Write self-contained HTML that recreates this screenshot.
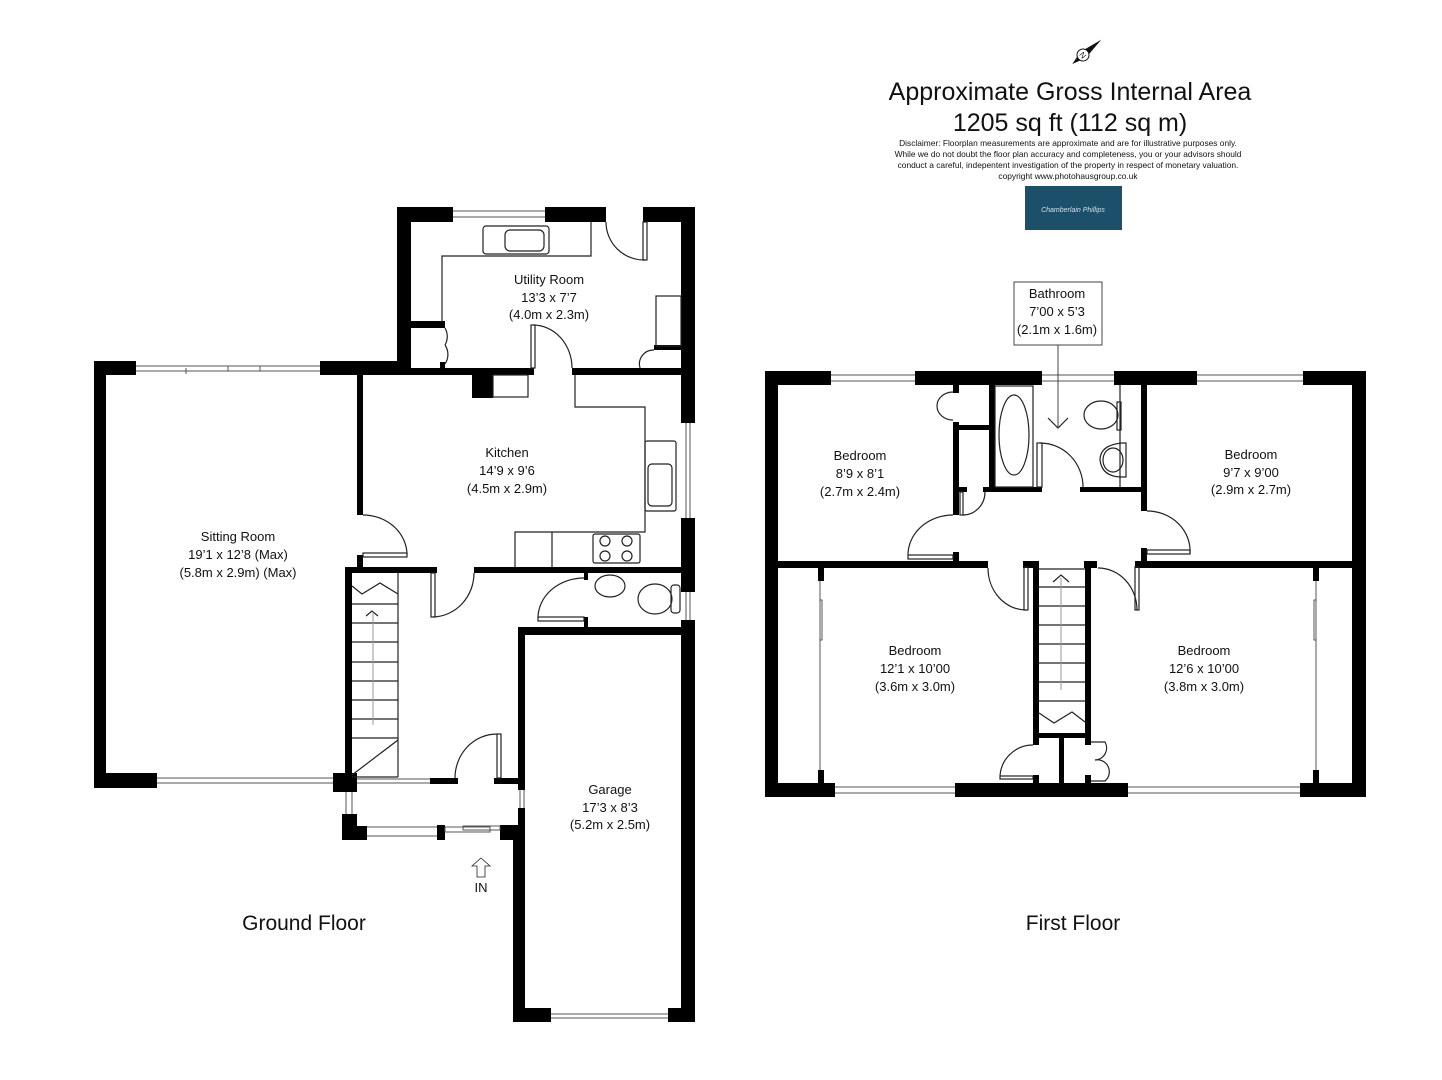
<!DOCTYPE html>
<html><head><meta charset="utf-8"><style>
html,body{margin:0;padding:0;background:#fff;}
svg{display:block;}
text{font-family:"Liberation Sans",sans-serif;fill:#111;}
</style></head><body>
<svg width="1442" height="1080" viewBox="0 0 1442 1080" xmlns="http://www.w3.org/2000/svg">
<rect width="1442" height="1080" fill="#fff"/>

<!-- Header -->
<g transform="translate(1083,55) rotate(50)">
<polygon points="0,-24 4,0 -4,0" fill="#111"/>
<polygon points="0,14 4,0 -4,0" fill="#111"/>
<circle r="6" fill="#fff" stroke="#111" stroke-width="1"/>
<text x="0" y="3" font-size="8" text-anchor="middle">N</text>
</g>
<text x="1070" y="100" font-size="25" text-anchor="middle">Approximate Gross Internal Area</text>
<text x="1070" y="131" font-size="25" text-anchor="middle">1205 sq ft (112 sq m)</text>
<g font-size="8.4" text-anchor="middle">
<text x="1068" y="146">Disclaimer: Floorplan measurements are approximate and are for illustrative purposes only.</text>
<text x="1068" y="157">While we do not doubt the floor plan accuracy and completeness, you or your advisors should</text>
<text x="1068" y="168">conduct a careful, indepentent investigation of the property in respect of monetary valuation.</text>
<text x="1068" y="179">copyright www.photohausgroup.co.uk</text>
</g>
<rect x="1025" y="186" width="97" height="44" fill="#1c4f69"/>
<text x="1073" y="212" font-size="7" text-anchor="middle" style="fill:#cfe0ea;font-style:italic">Chamberlain Phillips</text>

<!-- ===== GROUND FLOOR ===== -->
<g fill="#000">
<rect x="94" y="361" width="12" height="427"/>
<rect x="94" y="361" width="42" height="14"/>
<rect x="320" y="361" width="91" height="14"/>
<rect x="94" y="773" width="63" height="15"/>
<rect x="333" y="773" width="24" height="19"/>
<rect x="357" y="375" width="6" height="140"/>
<rect x="357" y="555" width="6" height="13"/>
<rect x="397" y="207" width="14" height="168"/>
<rect x="397" y="207" width="56" height="15"/>
<rect x="545" y="207" width="61" height="15"/>
<rect x="643" y="207" width="52" height="15"/>
<rect x="681" y="207" width="14" height="216"/>
<rect x="681" y="518" width="14" height="74"/>
<rect x="681" y="620" width="14" height="402"/>
<rect x="411" y="368" width="123" height="7"/>
<rect x="572" y="368" width="109" height="7"/>
<rect x="472" y="375" width="21" height="23"/>
<rect x="411" y="321" width="34" height="7"/>
<rect x="440" y="362" width="5" height="6"/>
<rect x="654" y="345" width="27" height="5"/>
<rect x="345" y="567" width="92" height="6"/>
<rect x="474" y="567" width="207" height="6"/>
<rect x="345" y="567" width="7" height="210"/>
<rect x="584" y="573" width="4" height="7"/>
<rect x="584" y="617" width="4" height="11"/>
<rect x="518" y="627" width="163" height="8"/>
<rect x="518" y="627" width="7" height="163"/>
<rect x="518" y="808" width="7" height="20"/>
<rect x="513" y="825" width="12" height="197"/>
<rect x="513" y="1008" width="38" height="14"/>
<rect x="668" y="1008" width="27" height="14"/>
<rect x="430" y="778" width="28" height="6"/>
<rect x="494" y="778" width="26" height="6"/>
<rect x="342" y="814" width="15" height="26"/>
<rect x="357" y="826" width="10" height="14"/>
<rect x="437" y="825" width="8" height="15"/>
<rect x="500" y="825" width="20" height="15"/>
</g>

<g fill="none" stroke="#555" stroke-width="1">
<line x1="136" y1="366" x2="320" y2="366"/><line x1="136" y1="371" x2="320" y2="371"/>
<line x1="186" y1="368" x2="186" y2="374"/><line x1="228" y1="366" x2="228" y2="371"/><line x1="260" y1="366" x2="260" y2="371"/>
<line x1="157" y1="778" x2="333" y2="778"/><line x1="157" y1="783" x2="333" y2="783"/>
<line x1="453" y1="211" x2="545" y2="211"/><line x1="453" y1="217" x2="545" y2="217"/>
<line x1="686" y1="423" x2="686" y2="518"/><line x1="690" y1="423" x2="690" y2="518"/>
<line x1="686" y1="592" x2="686" y2="620"/><line x1="690" y1="592" x2="690" y2="620"/>
<line x1="357" y1="779" x2="430" y2="779"/><line x1="357" y1="783" x2="430" y2="783"/>
<line x1="346" y1="792" x2="346" y2="814"/><line x1="352" y1="792" x2="352" y2="814"/>
<line x1="520" y1="790" x2="520" y2="808"/><line x1="524" y1="790" x2="524" y2="808"/>
<line x1="367" y1="827" x2="437" y2="827"/><line x1="367" y1="836" x2="437" y2="836"/>
<rect x="445" y="827" width="45" height="5"/><rect x="463" y="826" width="37" height="4"/>
<line x1="551" y1="1014" x2="668" y2="1014"/><line x1="551" y1="1018" x2="668" y2="1018"/>
</g>

<g fill="none" stroke="#222" stroke-width="1.2">
<polyline points="591,222 591,256 442,256 442,322"/>
<rect x="483" y="226" width="66" height="28" rx="3"/>
<rect x="505" y="230" width="39" height="21" rx="5"/>
<rect x="656" y="296" width="25" height="50"/>
<rect x="643" y="222" width="4" height="38"/>
<path d="M606,222 A38,38 0 0 0 645,260"/>
<rect x="531" y="325" width="4" height="43"/>
<path d="M533,325 A39,43 0 0 1 572,368"/>
<path d="M445,328 A17,17 0 0 1 445,345 M445,345 A17,17 0 0 1 445,364"/>
<path d="M640,368 A14,14 0 0 1 654,350"/>
<polyline points="575,375 575,407 645,407 645,532 515,532 515,567"/>
<line x1="552" y1="532" x2="552" y2="567"/>
<rect x="593" y="534" width="47" height="29" rx="2"/>
<circle cx="605" cy="541" r="5"/><circle cx="627" cy="541" r="5"/>
<circle cx="605" cy="556" r="5"/><circle cx="627" cy="556" r="5"/>
<rect x="645" y="441" width="31" height="70" rx="2"/>
<rect x="648" y="464" width="24" height="42" rx="4"/>
<rect x="493" y="375" width="35" height="22"/>
<path d="M363,515 A44,40 0 0 1 407,555"/>
<rect x="363" y="553" width="44" height="4"/>
<rect x="431" y="573" width="4" height="44"/>
<path d="M474,573 A42,44 0 0 1 433,617"/>
<path d="M584,578 A46,40 0 0 0 538,618"/>
<rect x="538" y="617" width="46" height="4"/>
<ellipse cx="610" cy="586" rx="15" ry="11"/>
<ellipse cx="655" cy="599" rx="17" ry="15"/>
<rect x="671" y="585" width="9" height="28" rx="3"/>
<line x1="398" y1="573" x2="398" y2="777"/>
<line x1="352" y1="777" x2="398" y2="777"/>
<line x1="352" y1="604" x2="398" y2="604"/><line x1="352" y1="623" x2="398" y2="623"/>
<line x1="352" y1="642" x2="398" y2="642"/><line x1="352" y1="662" x2="398" y2="662"/>
<line x1="352" y1="681" x2="398" y2="681"/><line x1="352" y1="700" x2="398" y2="700"/>
<line x1="352" y1="719" x2="398" y2="719"/><line x1="352" y1="738" x2="398" y2="738"/>
<line x1="352" y1="775" x2="398" y2="740"/>
<polyline points="352,586 362,594 380,583 398,594"/>
<polyline points="366,616 372,611 378,616"/>
<rect x="497" y="734" width="4" height="44"/>
<path d="M455,778 A42,44 0 0 1 497,734"/>
<polygon points="481,858 490,866 485,866 485,877 477,877 477,866 472,866" stroke-width="0.8"/>
</g>
<line x1="373" y1="612" x2="373" y2="725" stroke="#999" stroke-width="1"/>

<g font-size="13" text-anchor="middle">
<text x="238" y="541">Sitting Room</text><text x="238" y="559">19’1 x 12’8 (Max)</text><text x="238" y="577">(5.8m x 2.9m) (Max)</text>
<text x="549" y="284">Utility Room</text><text x="549" y="302">13’3 x 7’7</text><text x="549" y="319">(4.0m x 2.3m)</text>
<text x="507" y="457">Kitchen</text><text x="507" y="475">14’9 x 9’6</text><text x="507" y="493">(4.5m x 2.9m)</text>
<text x="610" y="794">Garage</text><text x="610" y="812">17’3 x 8’3</text><text x="610" y="829">(5.2m x 2.5m)</text>
<text x="481" y="892">IN</text>
</g>
<text x="304" y="930" font-size="21" text-anchor="middle">Ground Floor</text>
<text x="1073" y="930" font-size="21" text-anchor="middle">First Floor</text>

<!-- ===== FIRST FLOOR ===== -->
<g fill="#000">
<rect x="765" y="371" width="13" height="426"/>
<rect x="1352" y="371" width="14" height="426"/>
<rect x="765" y="371" width="66" height="14"/>
<rect x="915" y="371" width="127" height="14"/>
<rect x="1114" y="371" width="83" height="14"/>
<rect x="1303" y="371" width="63" height="14"/>
<rect x="765" y="783" width="70" height="14"/>
<rect x="955" y="783" width="173" height="14"/>
<rect x="1300" y="783" width="66" height="14"/>
<rect x="778" y="561" width="210" height="7"/>
<rect x="1023" y="561" width="16" height="7"/>
<rect x="1084" y="561" width="13" height="7"/>
<rect x="1135" y="561" width="217" height="7"/>
<rect x="953" y="385" width="6" height="8"/>
<rect x="953" y="422" width="6" height="93"/>
<rect x="953" y="552" width="6" height="10"/>
<rect x="959" y="425" width="31" height="5"/>
<rect x="989" y="385" width="6" height="107"/>
<rect x="983" y="487" width="59" height="5"/>
<rect x="959" y="487" width="8" height="5"/>
<rect x="1080" y="487" width="62" height="5"/>
<rect x="1141" y="385" width="6" height="126"/>
<rect x="1141" y="548" width="6" height="14"/>
<rect x="1033" y="561" width="6" height="184"/>
<rect x="1085" y="561" width="6" height="184"/>
<rect x="1039" y="733" width="46" height="5"/>
<rect x="1059" y="738" width="5" height="45"/>
<rect x="1033" y="775" width="6" height="8"/>
<rect x="1085" y="775" width="6" height="8"/>
<rect x="818" y="568" width="6" height="13"/>
<rect x="818" y="770" width="6" height="13"/>
<rect x="1313" y="568" width="6" height="13"/>
<rect x="1313" y="770" width="6" height="13"/>
</g>
<g fill="none" stroke="#555" stroke-width="1">
<line x1="831" y1="375" x2="915" y2="375"/><line x1="831" y1="381" x2="915" y2="381"/>
<line x1="1042" y1="375" x2="1114" y2="375"/><line x1="1042" y1="381" x2="1114" y2="381"/>
<line x1="1197" y1="375" x2="1303" y2="375"/><line x1="1197" y1="381" x2="1303" y2="381"/>
<line x1="835" y1="787" x2="955" y2="787"/><line x1="835" y1="793" x2="955" y2="793"/>
<line x1="1128" y1="787" x2="1300" y2="787"/><line x1="1128" y1="793" x2="1300" y2="793"/>
<line x1="820" y1="581" x2="820" y2="770"/><line x1="1316" y1="581" x2="1316" y2="770"/>
<polyline points="820,600 822,600 822,640 820,640 M820,665 822,665 822,705 820,705 M820,730 822,730 822,760"/>
<polyline points="1316,600 1314,600 1314,640 1316,640 M1316,665 1314,665 1314,705 1316,705 M1316,730 1314,730 1314,760"/>
</g>
<g fill="none" stroke="#222" stroke-width="1.2">
<path d="M953,392 A16,14 0 0 0 937,406 M937,406 A16,14 0 0 0 953,420"/>
<path d="M953,515 A45,40 0 0 0 908,555"/>
<rect x="908" y="555" width="45" height="4"/>
<rect x="960" y="492" width="3" height="23"/>
<path d="M963,515 A22,23 0 0 0 985,492"/>
<rect x="995" y="386" width="38" height="101"/>
<ellipse cx="1014" cy="435" rx="15" ry="40"/>
<rect x="1037" y="443" width="5" height="44"/>
<path d="M1040,443 A43,44 0 0 1 1083,487"/>
<line x1="1120" y1="385" x2="1120" y2="487"/>
<ellipse cx="1101" cy="415" rx="17" ry="14"/>
<rect x="1117" y="402" width="4" height="28"/>
<path d="M1126,443 L1122,443 Q1100,445 1100,460 Q1102,477 1122,477 L1126,477 Z"/>
<ellipse cx="1113" cy="460" rx="10" ry="12"/>
<path d="M1147,511 A43,40 0 0 1 1190,553"/>
<rect x="1147" y="550" width="43" height="4"/>
<line x1="1039" y1="569" x2="1085" y2="569"/>
<line x1="1039" y1="587" x2="1085" y2="587"/><line x1="1039" y1="606" x2="1085" y2="606"/>
<line x1="1039" y1="625" x2="1085" y2="625"/><line x1="1039" y1="644" x2="1085" y2="644"/>
<line x1="1039" y1="663" x2="1085" y2="663"/><line x1="1039" y1="682" x2="1085" y2="682"/>
<line x1="1039" y1="701" x2="1085" y2="701"/>
<polyline points="1039,713 1054,723 1072,712 1085,722"/>
<polyline points="1053,582 1061,575 1069,582"/>
<rect x="1024" y="567" width="4" height="43"/>
<path d="M988,568 A38,42 0 0 0 1026,610"/>
<rect x="1135" y="567" width="4" height="43"/>
<path d="M1098,568 A39,42 0 0 1 1137,610"/>
<path d="M1033,745 A33,33 0 0 0 1000,776"/>
<rect x="1000" y="776" width="33" height="3"/>
<path d="M1091,742 L1105,742 A12,12 0 0 1 1095,760 A12,12 0 0 1 1105,781 L1091,781"/>
<rect x="1014" y="282" width="88" height="63" stroke="#444" stroke-width="1"/>
<polyline points="1048,418 1058,428 1068,418"/>
</g>
<line x1="1061" y1="578" x2="1061" y2="690" stroke="#999" stroke-width="1"/>
<line x1="1058" y1="345" x2="1058" y2="428" stroke="#444" stroke-width="1"/>

<g font-size="13" text-anchor="middle">
<text x="1057" y="298">Bathroom</text><text x="1057" y="316">7’00 x 5’3</text><text x="1057" y="334">(2.1m x 1.6m)</text>
<text x="860" y="460">Bedroom</text><text x="860" y="478">8’9 x 8’1</text><text x="860" y="496">(2.7m x 2.4m)</text>
<text x="1251" y="459">Bedroom</text><text x="1251" y="477">9’7 x 9’00</text><text x="1251" y="494">(2.9m x 2.7m)</text>
<text x="915" y="655">Bedroom</text><text x="915" y="673">12’1 x 10’00</text><text x="915" y="691">(3.6m x 3.0m)</text>
<text x="1204" y="655">Bedroom</text><text x="1204" y="673">12’6 x 10’00</text><text x="1204" y="691">(3.8m x 3.0m)</text>
</g>
</svg>
</body></html>
